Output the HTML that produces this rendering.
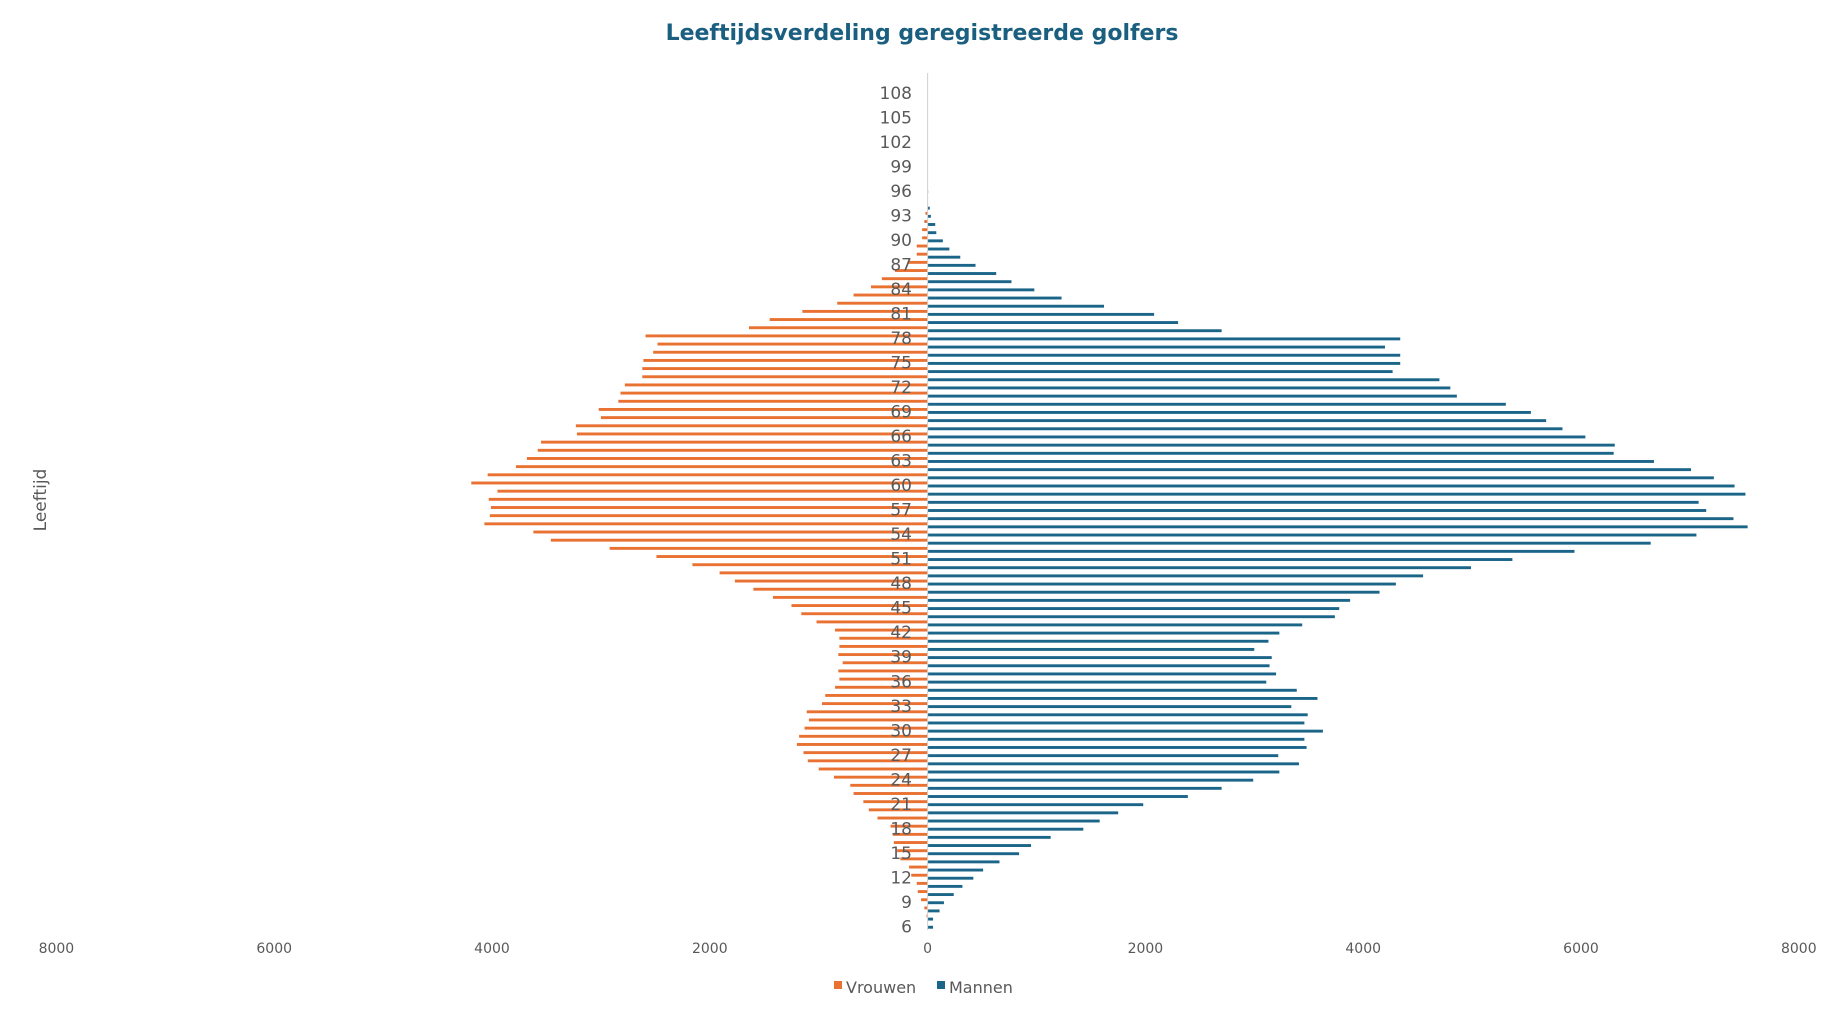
<!DOCTYPE html>
<html><head><meta charset="utf-8"><style>
html,body{margin:0;padding:0;background:#fff;}
svg{display:block;font-family:"DejaVu Sans","Liberation Sans",sans-serif;}
</style></head><body>
<svg id="chart" width="1834" height="1012" viewBox="0 0 1834 1012" xmlns="http://www.w3.org/2000/svg">
<text x="922" y="40" text-anchor="middle" font-size="22" font-weight="bold" fill="#1b5f80">Leeftijdsverdeling geregistreerde golfers</text>
<text transform="translate(46,500) rotate(-90)" text-anchor="middle" font-size="17" fill="#595959">Leeftijd</text>
<g id="bars"></g>
<g id="xticks"></g>
<g id="yticks"></g>
<line x1="927.6" y1="73" x2="927.6" y2="930" stroke="#d0d0d0" stroke-width="1"/>
<g>
<rect x="834" y="981" width="8" height="8" fill="#e97132"/>
<text x="846" y="993" font-size="16" fill="#595959">Vrouwen</text>
<rect x="937" y="981" width="8" height="8" fill="#1b6589"/>
<text x="949" y="993" font-size="16" fill="#595959">Mannen</text>
</g>
</svg>
<script>
// ages 6..108
var ages = [];
for (var a = 6; a <= 108; a++) ages.push(a);
// values by age, starting at 6
var mannen = [50,50,110,150,240,320,420,510,660,840,950,1130,1430,1580,1750,1980,2390,2700,2990,3230,3410,3220,3480,3460,3630,3460,3490,3340,3580,3390,3110,3200,3140,3160,3000,3130,3230,3440,3740,3780,3880,4150,4300,4550,4990,5370,5940,6640,7060,7530,7400,7150,7080,7510,7410,7220,7010,6670,6300,6310,6040,5830,5680,5540,5310,4860,4800,4700,4270,4340,4340,4200,4340,2700,2300,2080,1620,1230,980,770,630,440,300,200,140,80,70,30,20,0,5,0,0,0,0,0,0,0,0,0,0,0,0];
var vrouwen = [0,10,30,60,90,100,150,170,250,280,310,320,340,460,540,590,680,710,860,1000,1100,1140,1200,1180,1130,1090,1110,970,940,850,810,820,780,820,810,810,850,1020,1160,1250,1420,1600,1770,1910,2160,2490,2920,3460,3620,4070,4020,4010,4030,3950,4190,4040,3780,3680,3580,3550,3220,3230,3000,3020,2840,2820,2780,2620,2620,2610,2520,2480,2590,1640,1450,1150,830,680,520,420,300,180,100,100,50,50,30,20,0,0,0,0,0,0,0,0,0,0,0,0,0,0,0];
var xTickValues = [-8000,-6000,-4000,-2000,0,2000,4000,6000,8000];
var xTickLabels = ["8000","6000","4000","2000","0","2000","4000","6000","8000"];

var NS = "http://www.w3.org/2000/svg";
var x0 = 927.6, xScale = 871.2/8000;
function xPos(v){ return x0 + v*xScale; }
var yTop = 92.9, pitch = (926.4-92.9)/102;
function yPos(age){ return yTop + (108-age)*pitch; }

var bars = document.getElementById('bars');
for (var i = 0; i < ages.length; i++) {
  var yc = yPos(ages[i]);
  if (vrouwen[i] > 0) {
    var r = document.createElementNS(NS,'rect');
    
    
    var w = vrouwen[i]*xScale;
    r.setAttribute('x', x0 - w); r.setAttribute('y', yc - 3.6);
    r.setAttribute('width', w); r.setAttribute('height', 2.9);
    r.setAttribute('fill', '#e97132');
    bars.appendChild(r);
  }
  if (mannen[i] > 0) {
    var m = document.createElementNS(NS,'rect');
    
    
    m.setAttribute('x', x0); m.setAttribute('y', yc - 0.6);
    m.setAttribute('width', mannen[i]*xScale); m.setAttribute('height', 2.9);
    m.setAttribute('fill', '#1b6589');
    bars.appendChild(m);
  }
}
var xt = document.getElementById('xticks');
for (var j = 0; j < xTickValues.length; j++) {
  var t = document.createElementNS(NS,'text');
  
  
  t.setAttribute('x', xPos(xTickValues[j])); t.setAttribute('y', 953);
  t.setAttribute('text-anchor', 'middle'); t.setAttribute('font-size', '14');
  t.setAttribute('fill', '#595959');
  t.textContent = xTickLabels[j];
  xt.appendChild(t);
}
var yt = document.getElementById('yticks');
for (var k = 0; k < ages.length; k += 3) {
  var l = document.createElementNS(NS,'text');
  
  
  l.setAttribute('x', 912); l.setAttribute('y', yPos(ages[k]) + 6);
  l.setAttribute('text-anchor', 'end'); l.setAttribute('font-size', '17');
  l.setAttribute('fill', '#595959');
  l.textContent = ages[k];
  yt.appendChild(l);
}
</script>
</body></html>
